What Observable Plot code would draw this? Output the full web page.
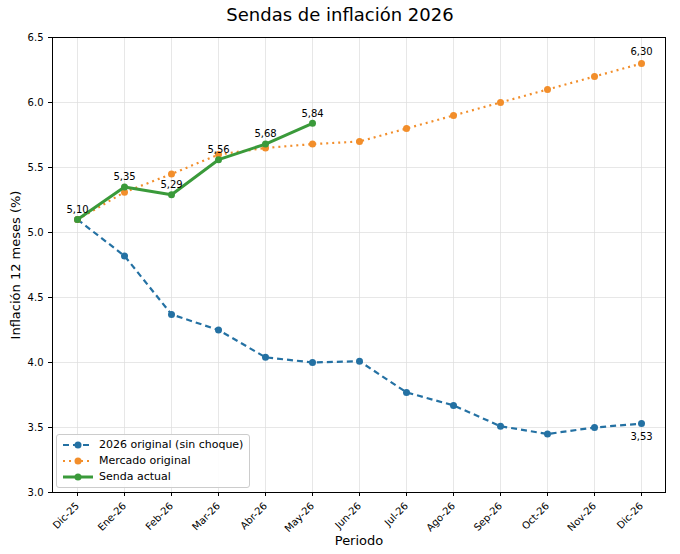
<!DOCTYPE html>
<html><head><meta charset="utf-8">
<script src="https://cdn.jsdelivr.net/npm/d3@7"></script>
<script src="https://cdn.jsdelivr.net/npm/@observablehq/plot@0.6"></script>
<style>
body{margin:0;background:#fff;font-family:"DejaVu Sans",sans-serif;}
#wrap{position:relative;width:680px;height:554px;}
#title{position:absolute;top:4px;left:0;width:680px;text-align:center;font-size:18px;color:#000;}
#chart{position:absolute;top:30px;left:0;}
#legend{position:absolute;left:56px;top:434px;background:rgba(255,255,255,0.9);border:1px solid #ccc;border-radius:3px;padding:2px 6px;font-size:11px;line-height:16px;}
#legend div{display:flex;align-items:center;gap:6px;}
</style></head><body>
<div id="wrap"><div id="title">Sendas de inflación 2026</div><div id="chart"></div>
<div id="legend"></div></div>
<script>
const periods = ["Dic-25","Ene-26","Feb-26","Mar-26","Abr-26","May-26","Jun-26","Jul-26","Ago-26","Sep-26","Oct-26","Nov-26","Dic-26"];
const original = [5.10,4.82,4.37,4.25,4.04,4.00,4.01,3.77,3.67,3.51,3.45,3.50,3.53];
const mercado = [5.10,5.31,5.45,5.60,5.65,5.68,5.70,5.80,5.90,6.00,6.10,6.20,6.30];
const actual = [5.10,5.35,5.29,5.56,5.68,5.84];
const yTicks = [3.0,3.5,4.0,4.5,5.0,5.5,6.0,6.5];
const series = [
  {name:"2026 original (sin choque)", vals:original, color:"#2471a3", dash:"6,4", w:2.2},
  {name:"Mercado original", vals:mercado, color:"#f28e2b", dash:"2,4", w:2.2},
  {name:"Senda actual", vals:actual, color:"#3a9a3a", dash:null, w:3}
];
const rows = s => s.vals.map((v,i)=>({p:periods[i], v}));
const fmt = v => v.toFixed(2).replace(".",",");
const marks = [
  Plot.gridY(yTicks,{stroke:"#ddd",strokeOpacity:0.7}),
  Plot.gridX(periods,{stroke:"#ddd",strokeOpacity:0.7}),
  Plot.frame({stroke:"#000"})
];
for (const s of series){
  marks.push(Plot.line(rows(s),{x:"p",y:"v",stroke:s.color,strokeWidth:s.w,strokeDasharray:s.dash,strokeLinecap:"butt"}));
  marks.push(Plot.dot(rows(s),{x:"p",y:"v",fill:s.color,r:3.5}));
}
const ga = rows(series[2]);
marks.push(Plot.text(ga,{x:"p",y:"v",text:d=>fmt(d.v),dy:-10,fontSize:10,fill:"#000"}));
marks.push(Plot.text([{p:"Dic-26",v:6.30}],{x:"p",y:"v",text:d=>fmt(d.v),dy:-12,fontSize:10,fill:"#000"}));
marks.push(Plot.text([{p:"Dic-26",v:3.53}],{x:"p",y:"v",text:d=>fmt(d.v),dy:13,fontSize:10,fill:"#000"}));
const plot = Plot.plot({
  width:680, height:524, marginLeft:52, marginRight:15, marginTop:7, marginBottom:62,
  style:{fontFamily:"DejaVu Sans",fontSize:"10px",color:"#000"},
  x:{type:"point",domain:periods,padding:0.5,tickRotate:-45,label:"Periodo",labelArrow:"none",labelAnchor:"center",labelOffset:52,tickSize:4},
  y:{domain:[3.0,6.5],ticks:yTicks,tickFormat:d=>d.toFixed(1),label:"Inflación 12 meses (%)",labelArrow:"none",labelAnchor:"center",labelOffset:42,tickSize:4},
  marks
});
plot.querySelectorAll('[aria-label="x-axis label"] text, [aria-label="y-axis label"] text').forEach(t=>t.setAttribute("font-size","13"));
document.getElementById("chart").appendChild(plot);
const lg = document.getElementById("legend");
for (const s of series){
  const d = document.createElement("div");
  d.innerHTML = `<svg width="30" height="10"><line x1="0" y1="5" x2="30" y2="5" stroke="${s.color}" stroke-width="${s.w}" ${s.dash?`stroke-dasharray="${s.dash}"`:""}/><circle cx="15" cy="5" r="3.5" fill="${s.color}"/></svg><span>${s.name}</span>`;
  lg.appendChild(d);
}
</script></body></html>
